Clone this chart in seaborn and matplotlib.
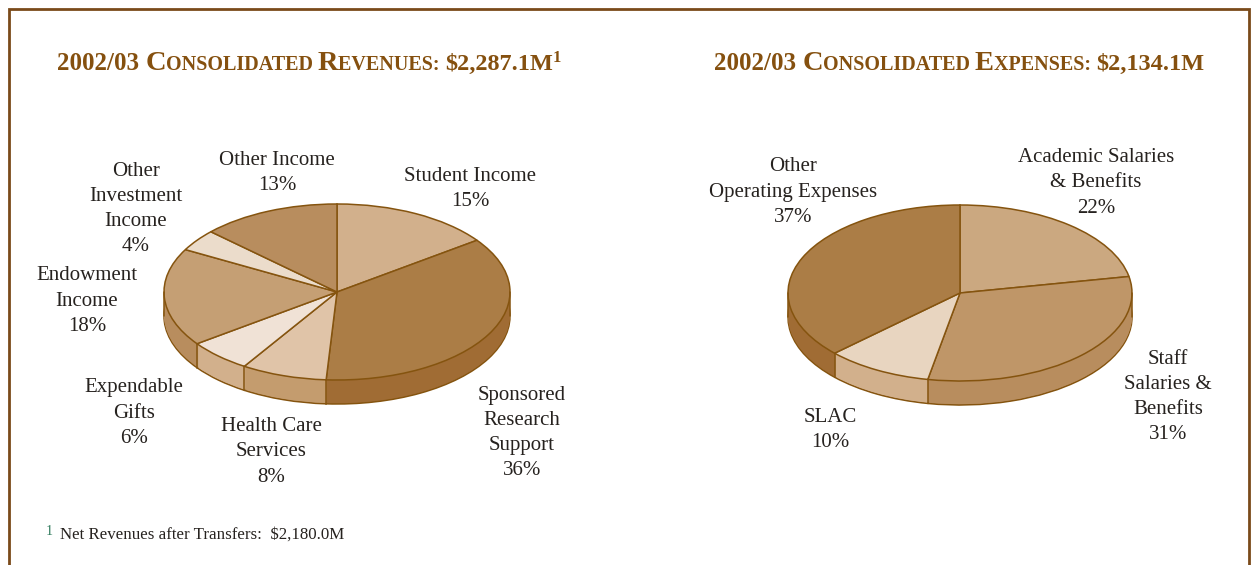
import numpy as np
import seaborn as sns
import matplotlib.pyplot as plt
from matplotlib.patches import Rectangle

W, H = 1251, 565
BROWN = '#85500F'
EDGE = '#85540F'
INK = '#26221F'

# revenues
rev_labels = ['Student Income\n15%', 'Sponsored\nResearch\nSupport\n36%', 'Health Care\nServices\n8%',
              'Expendable\nGifts\n6%', 'Endowment\nIncome\n18%', 'Other\nInvestment\nIncome\n4%',
              'Other Income\n13%']
rev_values = [15, 36, 8, 6, 18, 4, 13]
rev_top = ['#D2B08C', '#AB7D46', '#E0C4A8', '#F0E2D6', '#C59F74', '#EBDCCB', '#B88D5E']
rev_side = ['#C49C6E', '#A06C34', '#C49C6E', '#D2B08C', '#B88D5E', '#C49C6E', '#B88D5E']
rev_label_xy = [(470, 189), (522, 433), (271, 452), (134, 413), (87, 301), (136, 209), (277, 173)]

# expenses
exp_labels = ['Academic Salaries\n& Benefits\n22%', 'Staff\nSalaries &\nBenefits\n31%', 'SLAC\n10%',
              'Other\nOperating Expenses\n37%']
exp_values = [22, 31, 10, 37]
exp_top = ['#CBA880', '#BF9668', '#E8D5C0', '#AB7D46']
exp_side = ['#B88D5E', '#B88D5E', '#D2B08C', '#A06C34']
exp_label_xy = [(1096, 183), (1168, 397), (830, 430), (793, 192)]

sns.set_theme(style='white')
plt.rcParams['font.family'] = ['Liberation Serif']

fig = plt.figure(figsize=(W / 100, H / 100), dpi=100, facecolor='white')
renderer = fig.canvas.get_renderer()


def fx(x):
    return x / W


def fy(y):
    return 1 - y / H


def pie3d(values, top, side, cx, cy, rx, ry, depth):
    d = depth / ry
    pad = 0.03
    ax = fig.add_axes([fx(cx - rx * (1 + pad)), fy(cy + ry * (1 + pad) + depth),
                       2 * rx * (1 + pad) / W, (ry * (2 + 2 * pad) + depth) / H])
    # side wall: same pie stacked downward, one pixel per layer
    for i in range(depth, 0, -1):
        wp = {'edgecolor': EDGE, 'linewidth': 1.1} if i == depth else {'edgecolor': 'none'}
        ax.pie(values, colors=side, startangle=90, counterclock=False,
               center=(0, -d * i / depth), wedgeprops=wp)
    # seams on the front wall
    ang = np.radians(90 - np.cumsum(values) / np.sum(values) * 360)
    for a in ang:
        if np.sin(a) < 0:
            ax.plot([np.cos(a)] * 2, [np.sin(a), np.sin(a) - d], color=EDGE, lw=1.1)
    ax.plot([-1, -1], [0, -d], color=EDGE, lw=1.1)
    ax.plot([1, 1], [0, -d], color=EDGE, lw=1.1)
    ax.pie(values, colors=top, startangle=90, counterclock=False,
           wedgeprops={'edgecolor': EDGE, 'linewidth': 1.1})
    ax.set_aspect('auto')
    ax.set_xlim(-1 - pad, 1 + pad)
    ax.set_ylim(-1 - pad - d, 1 + pad)
    ax.axis('off')


def run_width(s, size, weight):
    t = fig.text(0, 0, s + '.', fontsize=size, fontweight=weight)
    u = fig.text(0, 0, '.', fontsize=size, fontweight=weight)
    w = t.get_window_extent(renderer).width - u.get_window_extent(renderer).width
    t.remove()
    u.remove()
    return w


def small_caps(runs, x, y):
    # runs of (text, size, raise), laid end to end from a pixel position
    for s, size, up in runs:
        fig.text(fx(x), fy(y - up), s, fontsize=size, fontweight='bold', color=BROWN, va='baseline', ha='left')
        x += run_width(s, size, 'bold')


pie3d(rev_values, rev_top, rev_side, 337, 292, 173, 88, 24)
pie3d(exp_values, exp_top, exp_side, 960, 293, 172, 88, 24)

for labels, xy in [(rev_labels, rev_label_xy), (exp_labels, exp_label_xy)]:
    for s, (x, y) in zip(labels, xy):
        fig.text(fx(x), fy(y), s, fontsize=15, color=INK, ha='center', va='center',
                 linespacing=1.44, multialignment='center')

YEAR, BIG, CAP, SMALL = 18, 17.5, 20.5, 14.5
small_caps([('2002/03 ', YEAR, 0), ('C', CAP, 0), ('ONSOLIDATED ', SMALL, 0), ('R', CAP, 0), ('EVENUES: ', SMALL, 0),
            ('$2,287.1M', BIG, 0), ('1', 12, 8)], 57, 70)
small_caps([('2002/03 ', YEAR, 0), ('C', CAP, 0), ('ONSOLIDATED ', SMALL, 0), ('E', CAP, 0), ('XPENSES: ', SMALL, 0),
            ('$2,134.1M', BIG, 0)], 714, 70)

fig.text(fx(46), fy(535), '1', fontsize=10, color='#2F7A5C', va='baseline')
fig.text(fx(60), fy(539), 'Net Revenues after Transfers:  $2,180.0M', fontsize=12.15, color=INK, va='baseline')

# page border runs off the bottom of the picture
fig.add_artist(Rectangle((fx(9), fy(H + 20)), (1240) / W, (H + 20 - 9) / H, transform=fig.transFigure,
                         facecolor='none', edgecolor='#7A4A1A', linewidth=2.0))

fig.savefig('out.png', dpi=100)
